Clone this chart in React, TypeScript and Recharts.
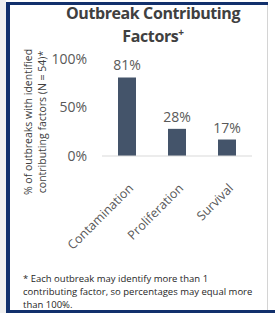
import { BarChart, Bar, XAxis, YAxis, LabelList } from "recharts";

const factors = ["Contamination", "Proliferation", "Survival"];
const percents = [81, 28, 17];
const yTicks = [0, 50, 100];

const data = factors.map((name, i) => ({ name, value: percents[i] }));

const NAVY = "#12306c";
const FONT = "'Open Sans', sans-serif";

const XTick = (props: any) => {
  const { x, y, payload } = props;
  return (
    <g transform={`translate(${x + 4},${y + 22})`}>
      <text
        transform="rotate(-45)"
        textAnchor="end"
        dy="0.35em"
        fill="#595959"
        fontSize={12.5}
        fontFamily={FONT}
      >
        {payload.value}
      </text>
    </g>
  );
};

export default function App() {
  return (
    <div
      style={{
        position: "absolute",
        left: 0,
        top: 0,
        width: 275,
        height: 313,
        background: "#fff",
        overflow: "hidden",
        fontFamily: FONT,
      }}
    >
      {/* frame */}
      <div style={{ position: "absolute", left: 0, top: 0, width: 6, height: 313, background: "#f0f0f0" }} />
      <div style={{ position: "absolute", left: 6, top: 2, width: 4, height: 311, background: NAVY }} />
      <div style={{ position: "absolute", left: 6, top: 2, width: 262, height: 3, background: NAVY }} />
      <div style={{ position: "absolute", left: 6, top: 310, width: 269, height: 3, background: NAVY }} />
      <div style={{ position: "absolute", left: 267, top: 5, width: 1, height: 305, background: "#d4d4d4" }} />

      <div
        style={{
          position: "absolute",
          left: 50,
          top: 2,
          width: 206,
          textAlign: "center",
          fontWeight: 700,
          fontSize: 16,
          letterSpacing: -0.4,
          lineHeight: "23px",
          color: "#404040",
        }}
      >
        Outbreak Contributing
        <br />
        Factors<sup style={{ fontSize: 10, lineHeight: 0 }}>+</sup>
      </div>

      <div
        style={{
          position: "absolute",
          left: 35,
          top: 122,
          width: 0,
          height: 0,
        }}
      >
        <div
          style={{
            position: "absolute",
            left: -100,
            top: -14,
            width: 200,
            textAlign: "center",
            transform: "rotate(-90deg)",
            fontSize: 10.5,
            lineHeight: "14px",
            color: "#404040",
            whiteSpace: "nowrap",
          }}
        >
          % of outbreaks with identified
          <br />
          contributing factors (N = 54)*
        </div>
      </div>

      <div style={{ position: "absolute", left: 0, top: 0 }}>
        <BarChart
          width={275}
          height={313}
          data={data}
          margin={{ top: 59, right: 23, bottom: 127, left: 0 }}
          barSize={18}
        >
          <XAxis
            dataKey="name"
            axisLine={{ stroke: "#d9d9d9" }}
            tickLine={false}
            interval={0}
            tick={<XTick />}
          />
          <YAxis
            width={102}
            domain={[0, 100]}
            ticks={yTicks}
            tickFormatter={(v: number) => `${v}%`}
            axisLine={false}
            tickLine={false}
            tickSize={0}
            tickMargin={15}
            tick={{ fill: "#595959", fontSize: 14, fontFamily: FONT }}
          />
          <Bar dataKey="value" fill="#44546a" isAnimationActive={false}>
            <LabelList
              dataKey="value"
              position="top"
              offset={7}
              formatter={(v: any) => `${v}%`}
              fill="#595959"
              fontSize={14}
              fontFamily={FONT}
            />
          </Bar>
        </BarChart>
      </div>

      <div
        style={{
          position: "absolute",
          left: 23,
          top: 272,
          width: 240,
          fontSize: 9.5,
          lineHeight: "13px",
          color: "#262626",
        }}
      >
        * Each outbreak may identify more than 1 contributing factor, so percentages may equal more than 100%.
      </div>
    </div>
  );
}
